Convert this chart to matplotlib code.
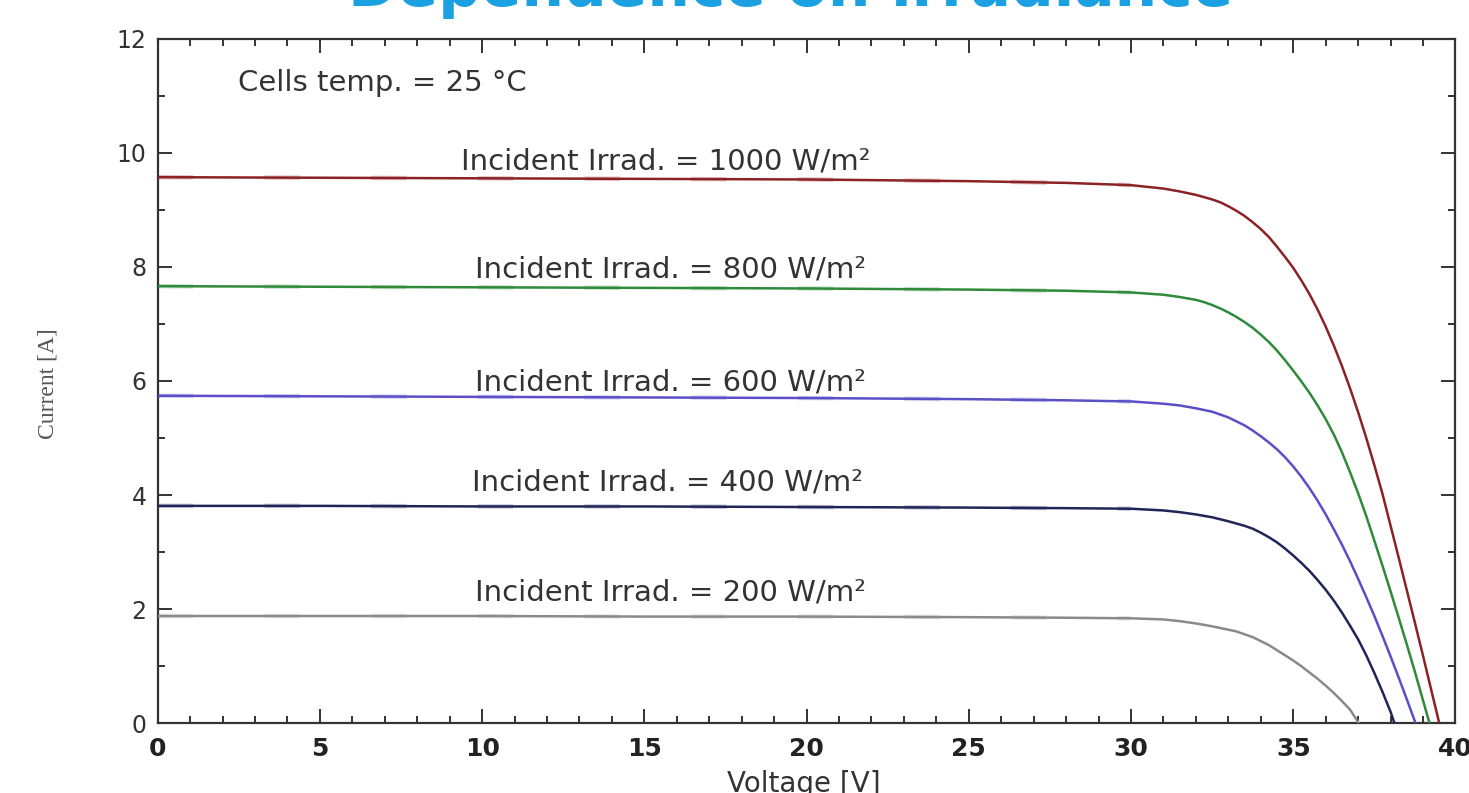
import numpy as np
import matplotlib
matplotlib.use("Agg")
import matplotlib.pyplot as plt
from matplotlib.ticker import MultipleLocator

# I-V curves (voltage [V], current [A])
v_1000 = [0, 5, 10, 15, 20, 25, 28, 30, 31, 31.5, 32, 32.25, 32.5, 32.75, 33, 33.25, 33.5, 33.75,
          34, 34.25, 34.5, 34.75, 35, 35.25, 35.5, 35.75, 36, 36.25, 36.5, 36.75, 37, 37.25,
          37.5, 37.75, 38, 38.25, 38.5, 38.75, 39, 39.25, 39.5]
i_1000 = [9.57, 9.56, 9.55, 9.54, 9.53, 9.50, 9.47, 9.43, 9.37, 9.32, 9.26, 9.22, 9.18, 9.13, 9.06, 8.98, 8.89, 8.78,
          8.66, 8.52, 8.35, 8.17, 7.98, 7.76, 7.52, 7.25, 6.95, 6.62, 6.26, 5.87, 5.45, 5.00,
          4.52, 4.02, 3.46, 2.90, 2.33, 1.76, 1.18, 0.59, 0.0]

v_800 = [0, 5, 10, 15, 20, 25, 28, 30, 31, 31.5, 32, 32.25, 32.5, 32.75, 33, 33.25, 33.5, 33.75,
         34, 34.25, 34.5, 34.75, 35, 35.25, 35.5, 35.75, 36, 36.25, 36.5, 36.75, 37, 37.25,
         37.5, 37.75, 38, 38.25, 38.5, 38.75, 39, 39.2]
i_800 = [7.66, 7.65, 7.64, 7.63, 7.62, 7.60, 7.58, 7.55, 7.51, 7.47, 7.42, 7.38, 7.33, 7.27, 7.20, 7.12, 7.03, 6.93,
         6.81, 6.68, 6.53, 6.36, 6.18, 5.99, 5.79, 5.57, 5.33, 5.06, 4.75, 4.40, 4.03, 3.63,
         3.20, 2.76, 2.31, 1.85, 1.38, 0.90, 0.40, 0.0]

v_600 = [0, 5, 10, 15, 20, 25, 28, 30, 31, 31.5, 32, 32.25, 32.5, 32.75, 33, 33.25, 33.5, 33.75,
         34, 34.25, 34.5, 34.75, 35, 35.25, 35.5, 35.75, 36, 36.25, 36.5, 36.75, 37, 37.25,
         37.5, 37.75, 38, 38.25, 38.5, 38.77]
i_600 = [5.74, 5.73, 5.72, 5.71, 5.70, 5.68, 5.66, 5.64, 5.60, 5.57, 5.52, 5.49, 5.46, 5.41, 5.36, 5.29, 5.22, 5.13,
         5.03, 4.92, 4.80, 4.66, 4.50, 4.32, 4.12, 3.90, 3.66, 3.40, 3.13, 2.84, 2.53, 2.21,
         1.88, 1.53, 1.17, 0.80, 0.42, 0.0]

v_400 = [0, 5, 10, 15, 20, 25, 28, 30, 31, 31.5, 32, 32.5, 33, 33.25, 33.5, 33.75,
         34, 34.25, 34.5, 34.75, 35, 35.25, 35.5, 35.75, 36, 36.25, 36.5, 36.75, 37, 37.25,
         37.5, 37.75, 38, 38.12]
i_400 = [3.81, 3.81, 3.80, 3.80, 3.79, 3.78, 3.77, 3.76, 3.73, 3.70, 3.66, 3.61, 3.54, 3.50, 3.46, 3.41,
         3.34, 3.26, 3.17, 3.06, 2.94, 2.81, 2.67, 2.51, 2.34, 2.15, 1.94, 1.71, 1.47, 1.19,
         0.88, 0.55, 0.20, 0.0]

v_200 = [0, 5, 10, 15, 20, 25, 28, 30, 31, 31.5, 32, 32.5, 33, 33.25, 33.5, 33.75,
         34, 34.25, 34.5, 34.75, 35, 35.25, 35.5, 35.75, 36, 36.25, 36.5, 36.75, 37.02]
i_200 = [1.88, 1.88, 1.88, 1.87, 1.87, 1.86, 1.85, 1.84, 1.82, 1.79, 1.75, 1.70, 1.64, 1.61, 1.56, 1.51,
         1.44, 1.37, 1.28, 1.19, 1.10, 1.00, 0.89, 0.78, 0.66, 0.53, 0.39, 0.24, 0.0]

irradiances = [1000, 800, 600, 400, 200]
voltages = [v_1000, v_800, v_600, v_400, v_200]
currents = [i_1000, i_800, i_600, i_400, i_200]
colors = ['#8b2326', '#2f8a3a', '#5a4fc7', '#1f2557', '#8a8a8a']
faint = ['#c77a7a', '#86c08c', '#a49ce0', '#7d82a8', '#c4c4c4']
label_pos = [(15.67, 9.70), (15.8, 7.81), (15.8, 5.83), (15.7, 4.08), (15.8, 2.15)]

fig = plt.figure(figsize=(14.69, 7.93), dpi=100)
fig.patch.set_facecolor('white')
ax = fig.add_axes([0.10735, 0.08789, 0.88346, 0.86356])

for v, i, c, fc in zip(voltages, currents, colors, faint):
    v = np.asarray(v)
    i = np.asarray(i)
    flat = v <= 30
    ax.plot(v[flat], i[flat], color=fc, lw=3.2, alpha=0.45, dashes=(8, 16),
            solid_capstyle='butt', zorder=2)
    ax.plot(v, i, color=c, lw=1.8, zorder=3, solid_joinstyle='round')

for g, (x, y) in zip(irradiances, label_pos):
    ax.text(x, y, f'Incident Irrad. = {g} W/m²', ha='center', va='baseline',
            fontsize=21, color='#333333')

ax.text(2.47, 11.08, 'Cells temp. = 25 °C', ha='left', va='baseline',
        fontsize=21, color='#333333')

ax.set_xlim(0, 40)
ax.set_ylim(0, 12)
ax.xaxis.set_major_locator(MultipleLocator(5))
ax.xaxis.set_minor_locator(MultipleLocator(1))
ax.yaxis.set_major_locator(MultipleLocator(2))
ax.yaxis.set_minor_locator(MultipleLocator(1))

ax.tick_params(which='both', direction='in', top=True, right=True,
               color='#333333', width=1.4)
ax.tick_params(which='major', length=10)
ax.tick_params(which='minor', length=5)
ax.tick_params(axis='x', which='major', pad=10, labelsize=18, labelcolor='#222222')
ax.tick_params(axis='y', which='major', pad=8, labelsize=17, labelcolor='#333333')
for lab in ax.get_xticklabels():
    lab.set_fontweight('bold')

for s in ax.spines.values():
    s.set_linewidth(1.6)
    s.set_color('#333333')

# labels placed as in the original (partly cut off)
fig.text(0.0327, 0.5158, 'Current [A]', rotation=90, ha='center', va='center',
         fontsize=17, family='Liberation Serif', color='#555555')
fig.text(0.547, 0.0013, 'Voltage [V]', ha='center', va='baseline',
         fontsize=20, color='#333333')
fig.text(0.538, 0.9925, 'Dependence on irradiance', ha='center', va='baseline',
         fontsize=43, fontweight='bold', color='#1ba1e2')

fig.savefig('out.png', dpi=100, facecolor='white')
